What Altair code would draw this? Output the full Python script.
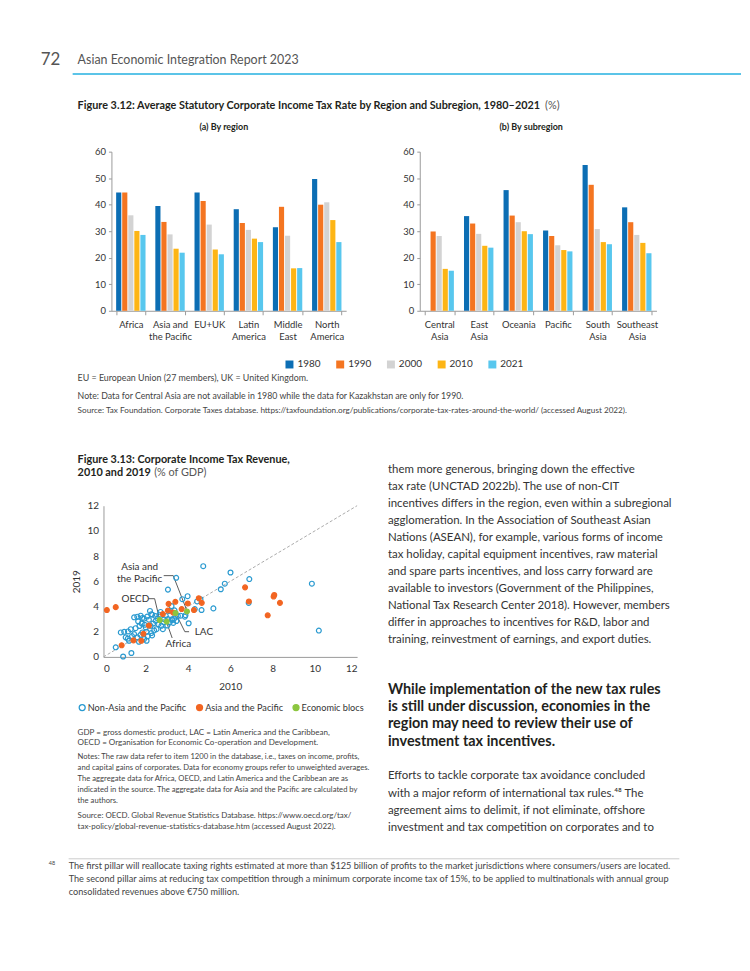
import altair as alt
import pandas as pd

FONT = "Lato"

# ---------------- Figure 3.12 data ----------------
years = ["1980", "1990", "2000", "2010", "2021"]
year_colors = ["#0c6eb4", "#f47521", "#d3d3d3", "#fdb515", "#58c7ee"]

regions = ["Africa", "Asia and the Pacific", "EU+UK", "Latin America", "Middle East", "North America"]
reg_1980 = [44.6, 39.5, 44.6, 38.3, 31.5, 49.7]
reg_1990 = [44.6, 33.5, 41.4, 33.1, 39.2, 40.0]
reg_2000 = [36.0, 28.8, 32.5, 30.5, 28.3, 40.9]
reg_2010 = [30.1, 23.4, 23.1, 27.2, 16.0, 34.2]
reg_2021 = [28.6, 21.9, 21.3, 25.9, 16.1, 25.9]

subregions = ["Central Asia", "East Asia", "Oceania", "Pacific", "South Asia", "Southeast Asia"]
sub_1980 = [None, 35.7, 45.5, 30.3, 55.0, 39.0]
sub_1990 = [29.9, 32.9, 35.9, 28.2, 47.5, 33.4]
sub_2000 = [28.2, 29.0, 33.4, 24.7, 30.8, 28.6]
sub_2010 = [15.8, 24.5, 30.0, 22.9, 25.9, 25.6]
sub_2021 = [15.1, 23.8, 28.9, 22.4, 25.1, 21.7]

# ---------------- Figure 3.13 data ----------------
groups = ["Non-Asia and the Pacific", "Asia and the Pacific", "Economic blocs"]
group_stroke = ["#2a9ad0", "#f26522", "#8cc63f"]
group_fill = ["rgba(255,255,255,0)", "#f26522", "#8cc63f"]

nonasia_2010 = [4.72, 6.01, 6.90, 3.44, 5.74, 5.55, 3.05, 9.86, 10.19, 6.87, 5.20, 4.64, 4.32, 4.43, 4.59,
                3.98, 3.73, 4.03, 3.85, 0.93, 1.32, 0.58, 3.22,
                2.20, 2.26, 2.70, 3.10, 3.36, 3.52, 3.88, 1.92, 2.07, 1.64, 1.81, 2.47, 2.86, 3.13, 3.25,
                2.00, 2.23, 2.51, 2.74, 1.84, 2.04, 2.26, 1.29, 1.52, 0.98, 0.82, 1.16, 1.45, 1.60, 1.05,
                1.21, 1.92, 2.04, 1.68, 1.45, 1.60, 1.76, 1.84, 2.31, 2.81, 3.02, 3.25, 3.65,
                2.35, 2.55, 2.95, 3.35, 2.15, 1.95, 2.40, 2.60, 1.75, 2.45, 3.30, 2.85, 1.35, 2.10, 3.45,
                1.70, 2.65, 3.05, 2.30, 1.15]
nonasia_2019 = [7.20, 6.70, 6.18, 6.28, 5.81, 5.37, 5.34, 5.81, 2.09, 4.29, 3.85, 3.72, 3.80, 4.40, 4.58,
                4.82, 4.58, 2.67, 3.19, 0.03, 0.31, 0.76, 4.03,
                3.65, 3.39, 3.57, 3.65, 3.70, 3.25, 3.31, 3.04, 3.20, 2.83, 2.65, 2.86, 2.99, 2.73, 2.99,
                2.34, 2.47, 2.20, 2.47, 1.94, 1.99, 1.89, 2.20, 2.28, 1.99, 1.94, 2.02, 1.81, 1.55, 1.55,
                1.28, 1.42, 1.28, 1.20, 3.14, 3.19, 3.27, 3.09, 3.35, 2.20, 2.49, 2.93, 3.27,
                2.65, 3.05, 3.25, 3.05, 2.95, 2.55, 2.10, 2.60, 1.75, 3.25, 2.70, 2.75, 1.65, 1.65, 2.85,
                2.45, 3.35, 3.00, 1.70, 1.45]

asia_2010 = [0.16, 0.58, 0.86, 1.42, 1.79, 1.89, 2.15, 2.81, 3.08, 3.05, 3.40, 3.29, 3.70, 3.99, 4.28,
             4.51, 4.65, 6.70, 6.88, 7.77, 8.05, 8.08, 8.35]
asia_2019 = [3.72, 3.95, 0.92, 1.31, 1.28, 1.83, 2.49, 3.40, 4.21, 3.69, 4.37, 3.53, 3.80, 4.24, 3.72,
             4.66, 4.29, 5.52, 4.40, 3.30, 4.79, 4.92, 4.29]

blocs = ["OECD", "Africa", "LAC", "Asia and the Pacific"]
blocs_2010 = [2.66, 2.99, 3.41, 3.95]
blocs_2019 = [2.93, 2.80, 3.48, 3.61]

# annotation labels (data coordinates) and leader lines
ann_text = ["Asia and\nthe Pacific", "OECD", "LAC", "Africa"]
ann_x = [1.71, 1.51, 4.75, 3.54]
ann_y = [7.11, 4.62, 1.99, 1.02]
leader_id = ["ap", "ap", "ap", "oecd", "oecd", "oecd", "lac", "lac", "lac", "afr", "afr"]
leader_x = [2.85, 3.30, 3.93, 2.13, 2.42, 2.64, 4.05, 3.85, 3.45, 3.25, 3.00]
leader_y = [6.45, 6.45, 3.75, 4.62, 4.62, 3.08, 2.00, 2.00, 3.35, 1.50, 2.68]

# ---------------- page text ----------------
page_no = "72"
running_head = "Asian Economic Integration Report 2023"
fig12_title = "Figure 3.12: Average Statutory Corporate Income Tax Rate by Region and Subregion, 1980–2021"
fig12_unit = "(%)"
fig12_panel_a = "(a) By region"
fig12_panel_b = "(b) By subregion"
fig12_notes = [
    "EU = European Union (27 members), UK = United Kingdom.",
    "Note: Data for Central Asia are not available in 1980 while the data for Kazakhstan are only for 1990.",
    "Source: Tax Foundation. Corporate Taxes database. https://taxfoundation.org/publications/corporate-tax-rates-around-the-world/ (accessed August 2022).",
]
fig13_title = ["Figure 3.13: Corporate Income Tax Revenue,", "2010 and 2019"]
fig13_unit = "(% of GDP)"
fig13_abbrev = [
    "GDP = gross domestic product, LAC = Latin America and the Caribbean,",
    "OECD = Organisation for Economic Co-operation and Development.",
]
fig13_notes = [
    "Notes: The raw data refer to item 1200 in the database, i.e., taxes on income, profits,",
    "and capital gains of corporates. Data for economy groups refer to unweighted averages.",
    "The aggregate data for Africa, OECD, and Latin America and the Caribbean are as",
    "indicated in the source. The aggregate data for Asia and the Pacific are calculated by",
    "the authors.",
]
fig13_source = [
    "Source: OECD. Global Revenue Statistics Database. https://www.oecd.org/tax/",
    "tax-policy/global-revenue-statistics-database.htm (accessed August 2022).",
]
body_1 = [
    "them more generous, bringing down the effective",
    "tax rate (UNCTAD 2022b). The use of non-CIT",
    "incentives differs in the region, even within a subregional",
    "agglomeration. In the Association of Southeast Asian",
    "Nations (ASEAN), for example, various forms of income",
    "tax holiday, capital equipment incentives, raw material",
    "and spare parts incentives, and loss carry forward are",
    "available to investors (Government of the Philippines,",
    "National Tax Research Center 2018). However, members",
    "differ in approaches to incentives for R&D, labor and",
    "training, reinvestment of earnings, and export duties.",
]
heading = [
    "While implementation of the new tax rules",
    "is still under discussion, economies in the",
    "region may need to review their use of",
    "investment tax incentives.",
]
body_2 = [
    "Efforts to tackle corporate tax avoidance concluded",
    "with a major reform of international tax rules.⁴⁸ The",
    "agreement aims to delimit, if not eliminate, offshore",
    "investment and tax competition on corporates and to",
]
footnote_no = "48"
footnote = [
    "The first pillar will reallocate taxing rights estimated at more than $125 billion of profits to the market jurisdictions where consumers/users are located.",
    "The second pillar aims at reducing tax competition through a minimum corporate income tax of 15%, to be applied to multinationals with annual group",
    "consolidated revenues above €750 million.",
]

# ---------------- helpers ----------------
def txt(lines, x, yc, size, lh=None, weight="normal", color="#333333", align="left", font=FONT):
    s = "\n".join(lines) if isinstance(lines, list) else lines
    return alt.Chart(pd.DataFrame({"t": [s]})).mark_text(
        align=align, baseline="alphabetic", lineBreak="\n", lineHeight=lh or size * 1.2,
        fontSize=size, fontWeight=weight, color=color, font=font,
    ).encode(text="t:N", x=alt.value(x - 8), y=alt.value(yc - 8 + 0.27 * size))


def hrule(x1, x2, y, color, w):
    return alt.Chart(pd.DataFrame({"r": [0]})).mark_rule(color=color, strokeWidth=w).encode(
        x=alt.value(x1 - 8), x2=alt.value(x2 - 8), y=alt.value(y - 8))


def spacer(w, h):
    return alt.Chart(pd.DataFrame({"s": [0]})).mark_point(opacity=0).encode(
        x=alt.value(0), y=alt.value(0)).properties(width=w, height=h)


def long_df(cats, series):
    rows = []
    for yr, vals in zip(years, series):
        for c, v in zip(cats, vals):
            rows.append({"cat": c, "year": yr, "value": v})
    return pd.DataFrame(rows)


NOTE_C = "#444444"
header = alt.layer(
    txt(page_no, 38, 58, 17, color="#555555"),
    txt(running_head, 75, 58, 12.5, color="#555555"),
    hrule(70, 742, 72, "#5bc4e8", 2),
    txt(fig12_title, 75, 104, 10.9, weight="bold", color="#231f20"),
    txt(fig12_unit, 545, 104, 10.9, color="#555555"),
    txt(fig12_panel_a, 222, 126, 9, weight="bold", color="#231f20", align="center"),
    txt(fig12_panel_b, 531, 126, 9, weight="bold", color="#231f20", align="center"),
    txt(fig12_notes[0], 75, 378, 8.9, color=NOTE_C),
    txt(fig12_notes[1], 75, 396, 8.8, color=NOTE_C),
    txt(fig12_notes[2], 75, 411, 8.2, color=NOTE_C),
    txt(fig13_title, 75, 460, 10.9, lh=13, weight="bold", color="#231f20"),
    txt(fig13_unit, 152, 473, 10.9, color="#555555"),
    txt(fig13_abbrev, 75, 734, 8.1, lh=10.5, color=NOTE_C),
    txt(fig13_notes, 75, 759, 7.7, lh=11, color=NOTE_C),
    txt(fig13_source, 75, 818, 8, lh=11, color=NOTE_C),
    txt(body_1, 387, 470, 11.5, lh=17.07, color="#333333"),
    txt(heading, 387, 691, 14.5, lh=17.5, weight="bold", color="#231f20"),
    txt(body_2, 387, 778, 11.5, lh=17.3, color="#333333"),
    hrule(66, 680, 861, "#cccccc", 1),
    txt(footnote_no, 46, 866, 5.5, color=NOTE_C),
    txt(footnote, 66, 869, 9.2, lh=13, color=NOTE_C),
).properties(width=734, height=142)

# ---------------- bar charts ----------------
label_expr = "datum.label == 'Asia and the Pacific' ? ['Asia and', 'the Pacific'] : split(datum.label, ' ')"


def bar_chart(df, cats, width, legend):
    return alt.Chart(df).mark_bar().encode(
        x=alt.X("cat:N", sort=cats, title=None,
                scale=alt.Scale(paddingInner=0.25, paddingOuter=0.12),
                axis=alt.Axis(labelAngle=0, labelExpr=label_expr, tickBand="extent", tickSize=4,
                              labelPadding=5, labelLineHeight=11.5, labelFontSize=9.5)),
        xOffset=alt.XOffset("year:N", sort=years, scale=alt.Scale(paddingInner=0.15)),
        y=alt.Y("value:Q", title=None, scale=alt.Scale(domain=[0, 60], nice=False),
                axis=alt.Axis(values=[0, 10, 20, 30, 40, 50, 60], tickSize=3, labelPadding=3,
                              labelFontSize=9.5)),
        color=alt.Color("year:N", sort=years, scale=alt.Scale(domain=years, range=year_colors),
                        legend=legend),
    ).properties(width=width, height=160)


bar_legend = alt.Legend(orient="none", legendX=174, legendY=209, direction="horizontal", title=None,
                        symbolType="square", symbolSize=64, symbolStrokeWidth=0, labelFontSize=10,
                        labelOffset=3, columnPadding=14, padding=0, labelColor="#333333")

left_bars = bar_chart(long_df(regions, [reg_1980, reg_1990, reg_2000, reg_2010, reg_2021]), regions, 236, bar_legend)
right_bars = bar_chart(long_df(subregions, [sub_1980, sub_1990, sub_2000, sub_2010, sub_2021]), subregions, 238, None)

bar_row = alt.hconcat(spacer(101, 160), left_bars, spacer(74, 160), right_bars,
                      spacing=0, bounds="flush").resolve_scale(color="independent")

# ---------------- scatter ----------------
sc_df = pd.DataFrame({
    "x": nonasia_2010 + asia_2010 + blocs_2010,
    "y": nonasia_2019 + asia_2019 + blocs_2019,
    "group": [groups[0]] * len(nonasia_2010) + [groups[1]] * len(asia_2010) + [groups[2]] * len(blocs_2010),
})
ticks = [0, 2, 4, 6, 8, 10, 12]
X = alt.X("x:Q", scale=alt.Scale(domain=[0, 12], nice=False),
          axis=alt.Axis(values=ticks, title="2010", ticks=False, labelPadding=7, titlePadding=8,
                        labelFontSize=10, titleFontSize=10, titleFontWeight="normal"))
Y = alt.Y("y:Q", scale=alt.Scale(domain=[0, 12], nice=False),
          axis=alt.Axis(values=ticks, title="2019", ticks=False, labelPadding=5, titlePadding=6,
                        labelFontSize=10, titleFontSize=10, titleFontWeight="normal"))

diag = alt.Chart(pd.DataFrame({"x": [0, 12], "y": [0, 12]})).mark_line(
    color="#aaaaaa", strokeDash=[3, 2], strokeWidth=1).encode(x=X, y=Y)

leaders = alt.Chart(pd.DataFrame({"x": leader_x, "y": leader_y, "id": leader_id,
                                  "o": list(range(len(leader_x)))})).mark_line(
    color="#333333", strokeWidth=0.8).encode(x=X, y=Y, detail="id:N", order="o:Q")

# legend of the scatter row is placed relative to the row (row origin = page x 8, y 506)
sc_legend = alt.Legend(orient="none", legendX=67, legendY=198, direction="horizontal", title=None,
                       symbolType="circle", symbolSize=36, symbolStrokeWidth=1.3, labelFontSize=9.2,
                       labelOffset=1, columnPadding=7, padding=0, labelColor="#333333")

points = alt.Chart(sc_df).mark_point(size=24, strokeWidth=1.2, opacity=1).encode(
    x=X, y=Y,
    stroke=alt.Stroke("group:N", scale=alt.Scale(domain=groups, range=group_stroke), legend=sc_legend),
    fill=alt.Fill("group:N", scale=alt.Scale(domain=groups, range=group_fill), legend=sc_legend),
)

labels = alt.Chart(pd.DataFrame({"x": ann_x, "y": ann_y, "t": ann_text})).mark_text(
    fontSize=10, color="#333333", align="center", baseline="middle", lineBreak="\n", lineHeight=12,
    font=FONT).encode(x=X, y=Y, text="t:N")

scatter = alt.layer(diag, leaders, points, labels).properties(width=255, height=152)

scatter_row = alt.hconcat(spacer(93, 152), scatter, spacing=0, bounds="flush")

# nested concat rows count as zero height in a flush layout, so the gap spacer
# covers the bar row (160) plus the space down to the scatter (196)
chart = alt.vconcat(
    header, bar_row, spacer(1, 356), scatter_row, spacing=0, bounds="flush"
).resolve_scale(color="independent", stroke="independent", fill="independent").properties(
    padding=0
).configure_view(stroke=None).configure_axis(
    labelFont=FONT, titleFont=FONT, domainColor="#9a9a9a", tickColor="#9a9a9a",
    labelColor="#333333", titleColor="#333333", grid=False,
).configure_legend(labelFont=FONT)

chart.save("out.html", embed_options={"renderer": "svg", "actions": False})
